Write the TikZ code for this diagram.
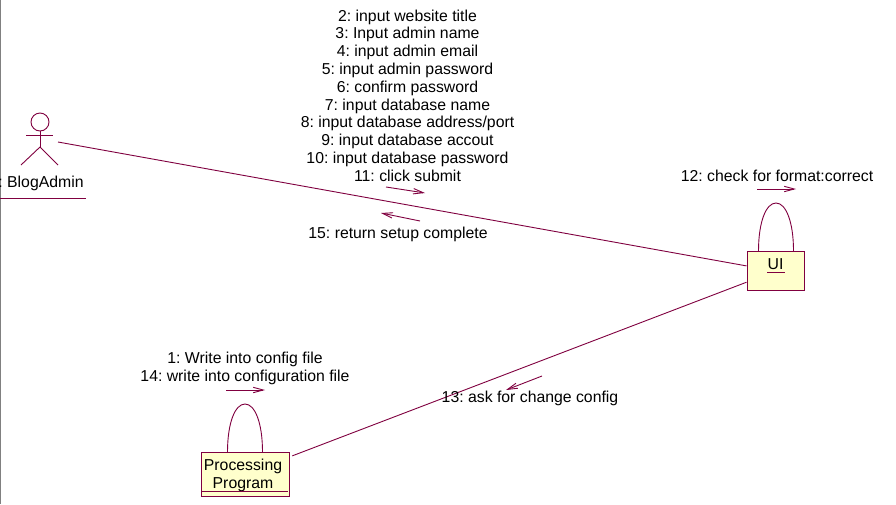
\documentclass[tikz,border=0pt]{standalone}
\usepackage{fontspec}
\setmainfont{Liberation Sans}
\usetikzlibrary{arrows.meta}
\definecolor{roseline}{RGB}{128,0,64}
\definecolor{rosefill}{RGB}{255,255,204}
\tikzset{
	objbox/.style={draw=roseline, fill=rosefill, line width=1pt, inner sep=0pt, align=center},
	link/.style={draw=roseline, line width=.9pt},
	msg/.style={draw=roseline, line width=.9pt, -{Straight Barb[length=10pt,width=11pt,angle'=30]}},
	lbl/.style={inner sep=0pt, align=center, font=\fontsize{15.8}{17.8}\selectfont\frenchspacing}
}
\begin{document}
\begin{tikzpicture}[x=1pt, y=-1pt]
	\useasboundingbox (0, 0) rectangle (896, 504);
	\fill[white] (0, 0) rectangle (896, 504);
	\draw[gray, line width=1.5pt] (.5, 0) to (.5, 504);

	% actor
	\node[draw=roseline, circle, line width=.9pt, minimum size=18pt, inner sep=0pt] (head) at(40, 122){};
	\draw[link] (head.south) to (40, 147);
		\draw[link] (26, 135) to (53, 135);
		\draw[link] (40, 147) to (21, 165);
		\draw[link] (40, 147) to (58, 165);
	\node[lbl, anchor=base] (admin) at(41, 187.5){: BlogAdmin};
	\draw[link] (0, 198) to (86, 198);
	\coordinate (adminend) at(58, 142);

	% objects
	\node[objbox, minimum width=57pt, minimum height=39pt] (ui) at(775.5, 270.5){};
	\node[lbl, anchor=base] (uitext) at(775.5, 269){UI};
	\draw[link] (767, 272.5) to (785, 272.5);
	\node[objbox, minimum width=88pt, minimum height=44pt] (proc) at(245, 474){};
	\node[lbl, anchor=center] (proctext) at(243, 475.5){Processing\\Program};
	\draw[link] (202, 491.5) to (288, 491.5);

	% links
	\draw[link] (adminend) to (ui.171);
	\draw[link, shorten >=3pt] (ui.202) to (proc.21);

	% self loops
	\draw[link] (758.5, 251) .. controls (758.5, 222) and (766, 203) .. (776, 203) .. controls (786, 203) and (793.5, 222) .. (793.5, 251);
	\draw[link] (227.5, 452) .. controls (227.5, 423) and (235, 404) .. (245, 404) .. controls (255, 404) and (262.5, 423) .. (262.5, 452);

	% messages
	\node[lbl] (setup) at(407.5, 95.5){2: input website title\\3: Input admin name\\4: input admin email\\5: input admin password\\6: confirm password\\7: input database name\\8: input database address/port\\9: input database accout\\10: input database password\\11: click submit};
	\draw[msg] (386, 187) to (425, 193);
	\node[lbl] (done) at(398, 234){15: return setup complete};
	\draw[msg] (420, 221) to (381, 213);
	\node[lbl] (check) at(777, 176){12: check for format:correct};
	\draw[msg] (757, 189) to (796, 189);
	\node[lbl] (write) at(245, 368.5){1: Write into config file\\14: write into configuration file};
	\draw[msg] (226, 390) to (265, 390);
	\node[lbl] (ask) at(530, 398){13: ask for change config};
	\draw[msg] (542, 376) to (506, 390);
\end{tikzpicture}
\end{document}
